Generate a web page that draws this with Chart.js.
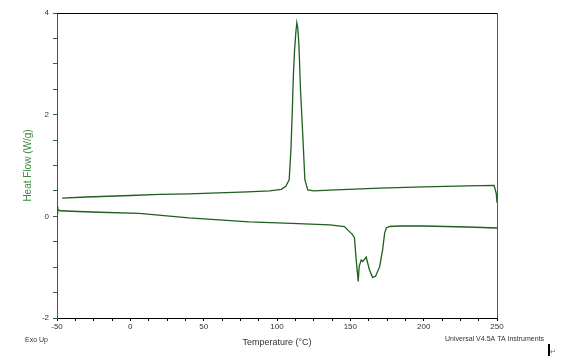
<!DOCTYPE html>
<html>
<head>
<meta charset="utf-8">
<script src="https://cdn.jsdelivr.net/npm/chart.js@4/dist/chart.umd.min.js"></script>
<style>
  html, body { margin: 0; padding: 0; background: #fff; }
  #wrap { width: 568px; height: 361px; }
</style>
</head>
<body>
<div id="wrap"><canvas id="dsc" width="568" height="361"></canvas></div>
<script>
// Upper trace (exothermic crystallisation peak)
const upperTemp = [-46.5, -30, 0, 20, 40, 60, 80, 95, 103, 106, 108.3, 109.5, 110.3, 111.2, 112,
  112.8, 113.5, 114.2, 115, 116, 117.5, 119, 121, 125, 140, 170, 200, 230, 248, 249.5, 250];
const upperFlow = [0.36, 0.38, 0.41, 0.43, 0.44, 0.46, 0.48, 0.5, 0.53, 0.59, 0.72, 1.31, 1.96, 2.8, 3.28,
  3.6, 3.81, 3.7, 3.34, 2.5, 1.64, 0.72, 0.52, 0.5, 0.52, 0.555, 0.58, 0.6, 0.61, 0.45, 0.27];

// Lower trace (endothermic melting double peak)
const lowerTemp = [-50, -49.5, -48, -40, -21, 6, 40, 81, 110, 136, 146, 149.4, 151.5, 152.8, 154,
  155.4, 156, 157.4, 158.4, 160.8, 163, 165.2, 167.2, 170, 172, 173.4, 174.5, 176.7, 183.6, 200, 230, 250];
const lowerFlow = [0.2, 0.14, 0.11, 0.1, 0.08, 0.06, -0.03, -0.11, -0.14, -0.17, -0.2, -0.3, -0.36, -0.42, -0.86,
  -1.28, -0.99, -0.86, -0.89, -0.8, -1.05, -1.2, -1.18, -0.99, -0.66, -0.33, -0.23, -0.2, -0.19, -0.19, -0.21, -0.23];

const xLabels = [-50, 0, 50, 100, 150, 200, 250];
const yLabels = [-2, 0, 2, 4];

const lineColor = "#1f5f1f";
const greenText = "#3a8a3a";

const toPoints = (xs, ys) => xs.map((x, i) => ({ x: x, y: ys[i] }));

// frame lines and the footer texts
const decorations = {
  id: "decorations",
  afterDraw(chart) {
    const { ctx, chartArea } = chart;
    ctx.save();
    ctx.lineWidth = 1;
    ctx.strokeStyle = "#000";
    ctx.beginPath();
    ctx.moveTo(chartArea.left, chartArea.top + 0.5);
    ctx.lineTo(chartArea.right, chartArea.top + 0.5);
    ctx.stroke();
    ctx.strokeStyle = "#2a7a2a";
    ctx.beginPath();
    ctx.moveTo(chartArea.right + 0.5, chartArea.top);
    ctx.lineTo(chartArea.right + 0.5, chartArea.bottom);
    ctx.stroke();

    ctx.fillStyle = "#333";
    ctx.font = "7px 'Liberation Sans', Arial, sans-serif";
    ctx.textBaseline = "middle";
    ctx.textAlign = "left";
    ctx.fillText("Exo Up", 25, 340);
    ctx.fillText("Universal V4.5A TA Instruments", 445, 339.5);
    ctx.fillStyle = "#000";
    ctx.fillRect(548, 344, 2, 12);
    ctx.fillStyle = "#666";
    ctx.fillText("\u21B5", 550, 352);
    ctx.restore();
  },
};

new Chart(document.getElementById("dsc").getContext("2d"), {
  type: "line",
  data: {
    datasets: [
      {
        label: "Upper",
        data: toPoints(upperTemp, upperFlow),
        borderColor: lineColor,
        borderWidth: 1.3,
        pointRadius: 0,
        tension: 0,
        fill: false,
      },
      {
        label: "Lower",
        data: toPoints(lowerTemp, lowerFlow),
        borderColor: lineColor,
        borderWidth: 1.3,
        pointRadius: 0,
        tension: 0,
        fill: false,
      },
    ],
  },
  options: {
    responsive: false,
    animation: false,
    layout: { padding: { top: 13, right: 71, left: 0, bottom: 0 } },
    plugins: {
      legend: { display: false },
      tooltip: { enabled: false },
    },
    scales: {
      x: {
        type: "linear",
        min: -50,
        max: 250,
        afterFit: (s) => { s.height = 43; },
        border: { color: "#000", width: 1 },
        grid: { drawOnChartArea: false, drawTicks: true, tickLength: 3, color: "#000" },
        ticks: {
          stepSize: 12.5,
          autoSkip: false,
          maxRotation: 0,
          padding: 1,
          color: "#333",
          font: { size: 8, family: "'Liberation Sans', Arial, sans-serif" },
          callback: (v) => (xLabels.includes(v) ? String(v) : ""),
        },
        title: {
          display: true,
          text: "Temperature (°C)",
          color: "#333",
          font: { size: 9, family: "'Liberation Sans', Arial, sans-serif" },
          padding: { top: 0, bottom: 13 },
        },
      },
      y: {
        type: "linear",
        min: -2,
        max: 4,
        afterFit: (s) => { s.width = 57; },
        border: { color: "#2a6a2a", width: 1 },
        grid: { drawOnChartArea: false, drawTicks: true, tickLength: 4, color: "#2a6a2a" },
        ticks: {
          stepSize: 0.5,
          autoSkip: false,
          padding: 4,
          color: "#333",
          font: { size: 8, family: "'Liberation Sans', Arial, sans-serif" },
          callback: (v) => (yLabels.includes(v) ? String(v) : ""),
        },
        title: {
          display: true,
          text: "Heat Flow (W/g)",
          color: greenText,
          font: { size: 10, family: "'Liberation Sans', Arial, sans-serif" },
          padding: { top: 22, bottom: 0 },
        },
      },
    },
  },
  plugins: [decorations],
});
</script>
</body>
</html>
